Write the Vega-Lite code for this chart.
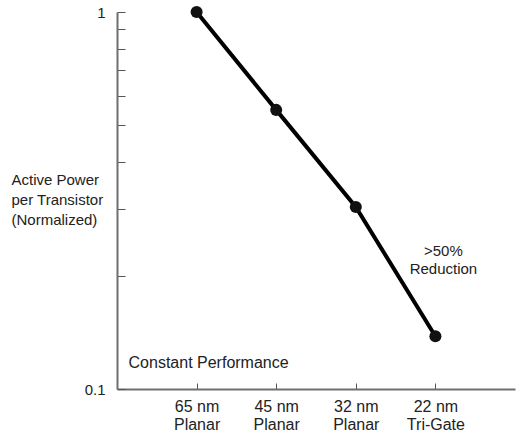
{
  "$schema": "https://vega.github.io/schema/vega-lite/v6.json",
  "autosize": "none",
  "width": 398,
  "height": 377,
  "padding": {"left": 117, "top": 12, "right": 1, "bottom": 44},
  "background": "white",
  "config": {
    "view": {"stroke": null},
    "font": "Liberation Sans",
    "axis": {"labelFont": "Liberation Sans", "titleFont": "Liberation Sans", "grid": false}
  },
  "datasets": {
    "power": [
      {"node": "65 nm|Planar", "power": 1.0},
      {"node": "45 nm|Planar", "power": 0.55},
      {"node": "32 nm|Planar", "power": 0.304},
      {"node": "22 nm|Tri-Gate", "power": 0.138}
    ],
    "notes": [
      {"node": "65 nm|Planar", "power": 0.117, "label": "Constant Performance", "dx": 12, "size": 16},
      {"node": "22 nm|Tri-Gate", "power": 0.232, "label": ">50%\nReduction", "dx": 8, "size": 15}
    ]
  },
  "layer": [
    {
      "mark": {"type": "rule", "color": "#6e6e6e", "strokeWidth": 1.5},
      "encoding": {"y": {"datum": 1, "type": "quantitative", "scale": {"type": "log", "domain": [0.1, 1]}}}
    },
    {
      "data": {"name": "power"},
      "mark": {"type": "line", "color": "black", "strokeWidth": 4, "point": {"filled": true, "color": "#111", "size": 145, "opacity": 1}},
      "encoding": {
        "x": {
          "field": "node", "type": "ordinal",
          "scale": {"type": "point", "padding": 1, "domain": ["65 nm|Planar", "45 nm|Planar", "32 nm|Planar", "22 nm|Tri-Gate"]},
          "axis": {
            "title": null, "labelAngle": 0, "labelExpr": "split(datum.label, '|')",
            "labelFontSize": 16, "labelColor": "#222", "labelLineHeight": 18, "labelPadding": 15,
            "tickSize": -6, "tickColor": "#555", "tickWidth": 1,
            "domainColor": "#6e6e6e", "domainWidth": 2
          }
        },
        "y": {
          "field": "power", "type": "quantitative",
          "scale": {"type": "log", "domain": [0.1, 1]},
          "axis": {
            "values": [0.1, 0.2, 0.3, 0.4, 0.5, 0.6, 0.7, 0.8, 0.9, 1],
            "labelExpr": "datum.value > 0.95 ? '1' : (datum.value < 0.105 ? '0.1' : '')",
            "labelFontSize": 15, "labelColor": "#222", "labelPadding": 20, "labelFlush": false,
            "tickSize": -8, "tickColor": "#555", "tickWidth": 1,
            "domainColor": "#6e6e6e", "domainWidth": 2,
            "title": ["Active Power", "per Transistor", "(Normalized)"],
            "titleAngle": 0, "titleAlign": "left", "titleBaseline": "top",
            "titleX": -106, "titleY": 160, "titleFontSize": 15, "titleFontWeight": "normal",
            "titleColor": "#222", "titleLineHeight": 20
          }
        }
      }
    },
    {
      "data": {"name": "notes"},
      "mark": {"type": "text", "color": "#222", "lineBreak": "\n", "lineHeight": 18, "baseline": "middle", "align": "center"},
      "encoding": {
        "x": {"field": "node", "type": "ordinal"},
        "y": {"field": "power", "type": "quantitative"},
        "text": {"field": "label"},
        "size": {"field": "size", "type": "quantitative", "scale": null},
        "xOffset": {"field": "dx", "type": "quantitative", "scale": null}
      }
    }
  ]
}
